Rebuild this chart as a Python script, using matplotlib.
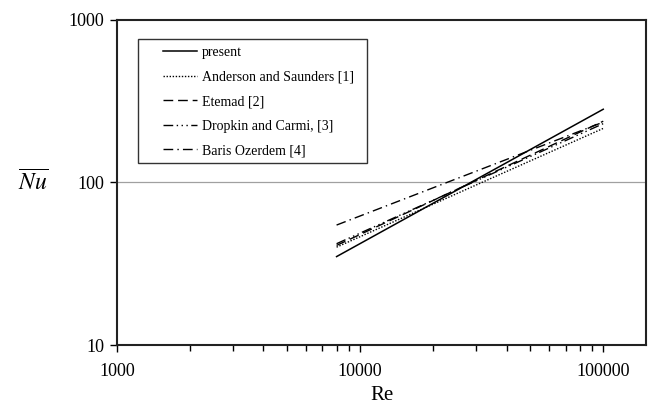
import numpy as np
import matplotlib
matplotlib.use('Agg')
import matplotlib.pyplot as plt
from matplotlib.patches import Rectangle
from matplotlib.ticker import FixedLocator, NullFormatter, FixedFormatter

plt.rcParams['font.family'] = ['Liberation Serif', 'DejaVu Serif']
plt.rcParams['mathtext.fontset'] = 'stix'

# Re range of the correlations and Nu at both ends
re = [8000, 100000]
nu_present = [35, 282]
nu_anderson = [40, 215]
nu_etemad = [41, 238]
nu_dropkin = [42, 230]
nu_baris = [54.7, 235]

labels = ['present', 'Anderson and Saunders [1]', 'Etemad [2]',
          'Dropkin and Carmi, [3]', 'Baris Ozerdem [4]']

fig = plt.figure(figsize=(6.48, 4.05), dpi=100)
ax = fig.add_axes([0.1806, 0.148, 0.8164, 0.803])

ax.plot(re, nu_present, color='k', lw=1.1, ls='-', label=labels[0])
ax.plot(re, nu_anderson, color='k', lw=1.0, ls=(0, (1, 1.2)), label=labels[1])
ax.plot(re, nu_etemad, color='k', lw=1.0, ls=(0, (7, 3.5)), label=labels[2])
ax.plot(re, nu_dropkin, color='k', lw=1.0, ls=(0, (7, 2.5, 1, 2.5, 1, 2.5, 1, 2.5)), label=labels[3])
ax.plot(re, nu_baris, color='k', lw=1.0, ls=(0, (7, 3, 1, 3)), label=labels[4])

ax.set_xscale('log')
ax.set_yscale('log')
ax.set_xlim(1000, 150000)
ax.set_ylim(10, 1000)

ax.axhline(100, color='#a0a0a0', lw=0.9, zorder=0)

ax.xaxis.set_major_locator(FixedLocator([1000, 10000, 100000]))
ax.xaxis.set_major_formatter(FixedFormatter(['1000', '10000', '100000']))
minors = [m * d for d in (1000, 10000, 100000) for m in range(2, 10)]
ax.xaxis.set_minor_locator(FixedLocator(minors))
ax.xaxis.set_minor_formatter(NullFormatter())
ax.yaxis.set_major_locator(FixedLocator([10, 100, 1000]))
ax.yaxis.set_major_formatter(FixedFormatter(['10', '100', '1000']))
ax.yaxis.set_minor_locator(FixedLocator([]))

ax.tick_params(axis='x', which='major', direction='out', length=5, width=1, labelsize=13, pad=8)
ax.tick_params(axis='x', which='minor', direction='out', length=4, width=1)
ax.tick_params(axis='y', which='major', direction='out', length=5, width=1, labelsize=13, pad=4)

for s in ax.spines.values():
    s.set_linewidth(1.5)
    s.set_color('#222222')

ax.set_xlabel('Re', fontsize=15, labelpad=4)
fig.text(0.051, 0.548, r'$\overline{Nu}$', fontsize=17, ha='center', va='center')

# legend frame drawn separately so the inner padding can be wider than the text pad
ax.add_patch(Rectangle((0.0397, 0.56), 0.433, 0.3815, transform=ax.transAxes,
                       fill=True, facecolor='white', edgecolor='#333333',
                       lw=1.0, zorder=4))
leg = ax.legend(loc='upper left', bbox_to_anchor=(0.087, 0.919), fontsize=10,
                frameon=False, borderpad=0, borderaxespad=0,
                handlelength=2.45, labelspacing=0.83, handletextpad=0.36)
leg.set_zorder(5)

fig.savefig('out.png', dpi=100)
